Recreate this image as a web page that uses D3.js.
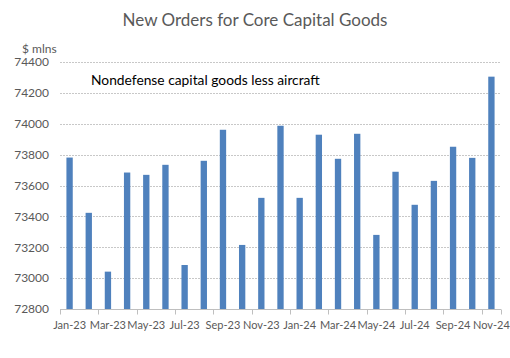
<!DOCTYPE html>
<html><head><meta charset="utf-8">
<script src="https://cdn.jsdelivr.net/npm/d3@7"></script>
<style>body{margin:0;background:#fff}svg{display:block}text{font-family:Lato,"Open Sans",sans-serif}</style>
</head><body>
<script>
const categories = ["Jan-23","Feb-23","Mar-23","Apr-23","May-23","Jun-23","Jul-23","Aug-23","Sep-23","Oct-23","Nov-23","Dec-23",
  "Jan-24","Feb-24","Mar-24","Apr-24","May-24","Jun-24","Jul-24","Aug-24","Sep-24","Oct-24","Nov-24"];
const values = [73781,73423,73042,73684,73669,73734,73085,73760,73961,73215,73520,73987,
  73520,73929,73773,73935,73280,73689,73475,73630,73851,73779,74305];
const yTicks = [72800,73000,73200,73400,73600,73800,74000,74200,74400];
const title = "New Orders for Core Capital Goods";
const unitLabel = "$ mlns";
const seriesLabel = "Nondefense capital goods less aircraft";

const W = 510, H = 358;
const m = {left:60, right:9, top:62, bottom:49};
const svg = d3.select("body").append("svg").attr("width",W).attr("height",H);

const x = d3.scaleBand().domain(categories).range([m.left, W-m.right]).paddingInner(0.67).paddingOuter(0.335);
const xb = d3.scaleBand().domain(categories).range([m.left, W-m.right]);
const y = d3.scaleLinear().domain([72800,74400]).range([H-m.bottom, m.top]);

// gridlines
svg.append("g").selectAll("line").data(yTicks.slice(1)).join("line")
  .attr("x1",m.left).attr("x2",W-m.right)
  .attr("y1",d=>Math.round(y(d))+0.5).attr("y2",d=>Math.round(y(d))+0.5)
  .attr("stroke","#c8c8c8").attr("stroke-width",1).attr("stroke-dasharray","2,1");

// y labels
const yAxis = d3.axisLeft(y).tickValues(yTicks).tickSize(0).tickPadding(11).tickFormat(d3.format("d"));
const gy = svg.append("g").attr("transform",`translate(${m.left},0)`).call(yAxis);
gy.select(".domain").remove();
gy.selectAll("text").attr("fill","#595959").style("font-size","12px");

// bars
svg.append("g").selectAll("rect").data(values).join("rect")
  .attr("x",(d,i)=>x(categories[i])).attr("width",x.bandwidth())
  .attr("y",d=>y(d)).attr("height",d=>y(72800)-y(d))
  .attr("fill","#4f81bd");

// x axis
const xAxis = d3.axisBottom(xb).tickValues(categories.filter((d,i)=>i%2===0)).tickSize(0).tickPadding(12);
const gx = svg.append("g").attr("transform",`translate(0,${Math.round(y(72800))+0.5})`).call(xAxis);
gx.select(".domain").attr("stroke","#bfbfbf").attr("d",`M${m.left},0H${W-m.right}`);
gx.selectAll("text").attr("fill","#595959").style("font-size","11px");
// ticks at band boundaries every 2
const tickPos = categories.map((c,i)=>i).filter(i=>i%2===0).map(i=>xb(categories[i]));
tickPos.push(W-m.right);
gx.append("g").selectAll("line").data(tickPos).join("line")
  .attr("x1",d=>Math.round(d)+0.5).attr("x2",d=>Math.round(d)+0.5)
  .attr("y1",0).attr("y2",5).attr("stroke","#bfbfbf");

svg.append("text").attr("x",255).attr("y",26).attr("text-anchor","middle")
  .attr("fill","#595959").style("font-size","17px").text(title);
svg.append("text").attr("x",22).attr("y",53).attr("fill","#595959").style("font-size","12px").text(unitLabel);
svg.append("text").attr("x",91).attr("y",85).attr("fill","#000").style("font-size","13.8px").text(seriesLabel);
</script>
</body></html>
